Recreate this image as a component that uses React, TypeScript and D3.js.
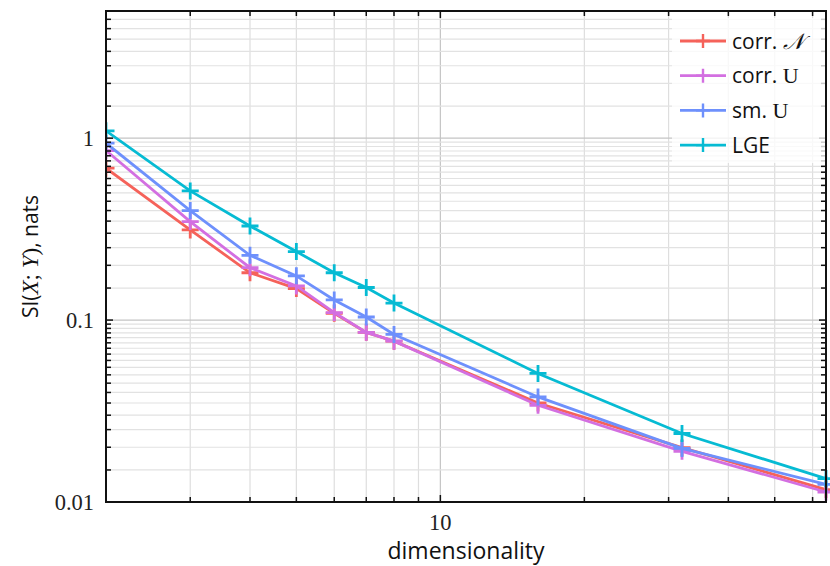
import React from 'react';
import * as d3 from 'd3';

// dimensionality values on the x axis
const dims = [2, 3, 4, 5, 6, 7, 8, 16, 32, 64];

// SI(X;Y) estimates per method (nats)
const corrNormal = [0.684, 0.313, 0.182, 0.149, 0.109, 0.0856, 0.0766, 0.0350, 0.0199, 0.0117];
const corrUniform = [0.855, 0.348, 0.194, 0.154, 0.110, 0.0856, 0.0766, 0.0340, 0.0190, 0.01135];
const smUniform = [0.939, 0.40, 0.227, 0.175, 0.129, 0.104, 0.0834, 0.0378, 0.0197, 0.0125];
const lge = [1.097, 0.513, 0.329, 0.238, 0.182, 0.151, 0.124, 0.0509, 0.0238, 0.01345];

const seriesNames = ['corr. N', 'corr. U', 'sm. U', 'LGE'];
const seriesColors = ['#f5625a', '#d36fe1', '#6e90fc', '#06bbd3'];
const seriesValues = [corrNormal, corrUniform, smUniform, lge];

const xTickLabels = [10];
const yTickLabels = [0.01, 0.1, 1];

const W = 830;
const H = 566;
const left = 106, right = 826, top = 11, bottom = 502;

const sansFont = '"Open Sans", "Noto Sans", sans-serif';
const serifFont = '"Liberation Serif", "DejaVu Serif", serif';

export default function App() {
  const x = d3.scaleLog().domain([2, 64]).range([left, right]);
  const y = d3.scaleLog().domain([0.01, 5]).range([bottom, top]);

  // x grid: 2..9, 10, 20..60
  const xGrid: number[] = [];
  for (let k = 0; k < 2; k++) {
    for (let m = 1; m <= 9; m++) {
      const v = m * Math.pow(10, k);
      if (v > 2 && v < 64) xGrid.push(v);
    }
  }
  // y grid: every half step of the mantissa
  const yGrid: { v: number; major: boolean }[] = [];
  for (let k = -2; k <= 0; k++) {
    for (let m = 1; m < 10; m += 0.5) {
      const v = m * Math.pow(10, k);
      if (v > 0.01 && v <= 5.0001) yGrid.push({ v, major: m === 1 });
    }
  }

  const line = d3.line<[number, number]>().x(d => x(d[0])).y(d => y(d[1]));
  const plus = (cx: number, cy: number, s: number) =>
    `M${cx - s},${cy}H${cx + s}M${cx},${cy - s}V${cy + s}`;

  const legendX = 672, legendY = 18;
  const rowY = (i: number) => legendY + 23 + i * 34.7;

  return (
    <svg width={W} height={H} style={{ position: 'absolute', left: 0, top: 0, background: '#fff' }}>
      <defs>
        <clipPath id="plotClip">
          <rect x={left} y={top - 8} width={right - left + 8} height={bottom - top + 16} />
        </clipPath>
      </defs>

      {/* grid */}
      {xGrid.map(v => (
        <line key={'xg' + v} x1={x(v)} x2={x(v)} y1={top} y2={bottom}
          stroke={v === 10 ? '#c4c4c4' : '#dedede'} strokeWidth={1.2} />
      ))}
      {yGrid.map(g => (
        <line key={'yg' + g.v} x1={left} x2={right} y1={y(g.v)} y2={y(g.v)}
          stroke={g.major ? '#c4c4c4' : '#e2e2e2'} strokeWidth={1.2} />
      ))}

      {/* series */}
      <g clipPath="url(#plotClip)">
        {seriesValues.map((vals, i) => {
          const pts = dims.map((d, j) => [d, vals[j]] as [number, number]);
          return (
            <g key={seriesNames[i]}>
              <path d={line(pts) || ''} fill="none" stroke={seriesColors[i]} strokeWidth={2.8} />
              {pts.map((p, j) => (
                <path key={j} d={plus(x(p[0]), y(p[1]), 8.5)} stroke={seriesColors[i]} strokeWidth={2.8} />
              ))}
            </g>
          );
        })}
      </g>

      {/* frame ticks */}
      {xGrid.map(v => (
        <g key={'xt' + v}>
          <line x1={x(v)} x2={x(v)} y1={bottom} y2={bottom - (v === 10 ? 7 : 5)} stroke="#111" strokeWidth={1.5} />
          <line x1={x(v)} x2={x(v)} y1={top} y2={top + (v === 10 ? 7 : 5)} stroke="#111" strokeWidth={1.5} />
        </g>
      ))}
      {yGrid.map(g => (
        <g key={'yt' + g.v}>
          <line x1={left} x2={left + (g.major ? 7 : 5)} y1={y(g.v)} y2={y(g.v)} stroke="#111" strokeWidth={1.5} />
          <line x1={right} x2={right - (g.major ? 7 : 5)} y1={y(g.v)} y2={y(g.v)} stroke="#111" strokeWidth={1.5} />
        </g>
      ))}
      <rect x={left} y={top} width={right - left} height={bottom - top} fill="none" stroke="#111" strokeWidth={2} />

      {/* tick labels */}
      {yTickLabels.map(v => (
        <text key={'yl' + v} x={94} y={y(v) + 7.5} textAnchor="end" fontFamily={serifFont} fontSize={22.5} fill="#222">
          {String(v)}
        </text>
      ))}
      {xTickLabels.map(v => (
        <text key={'xl' + v} x={x(v)} y={530} textAnchor="middle" fontFamily={serifFont} fontSize={22.5} fill="#222">
          {String(v)}
        </text>
      ))}

      {/* axis titles */}
      <text x={(left + right) / 2} y={559} textAnchor="middle" fontFamily={sansFont} fontSize={23} fill="#111">
        dimensionality
      </text>
      <text transform={`translate(38,${(top + bottom) / 2}) rotate(-90)`} textAnchor="middle"
        fontFamily={sansFont} fontSize={21} fill="#111">
        SI(<tspan fontFamily={serifFont} fontStyle="italic" fontSize={23}>X</tspan>
        <tspan fontFamily={serifFont} fontSize={23}>; </tspan>
        <tspan fontFamily={serifFont} fontStyle="italic" fontSize={23}>Y</tspan>
        <tspan fontFamily={serifFont} fontSize={23}>)</tspan>, nats
      </text>

      {/* legend */}
      <rect x={legendX} y={legendY} width={right - legendX - 1} height={145} fill="#fff" fillOpacity={0.78} />
      {seriesNames.map((name, i) => {
        const cy = rowY(i);
        const label =
          i === 0 ? (<>corr. <tspan fontFamily={serifFont} fontStyle="italic" fontSize={22}>𝒩</tspan></>)
          : i === 1 ? (<>corr. <tspan fontFamily={serifFont} fontSize={22}>U</tspan></>)
          : i === 2 ? (<>sm. <tspan fontFamily={serifFont} fontSize={22}>U</tspan></>)
          : name;
        return (
          <g key={'lg' + name}>
            <line x1={680} x2={726} y1={cy} y2={cy} stroke={seriesColors[i]} strokeWidth={2.8} />
            <path d={plus(703, cy, 7)} stroke={seriesColors[i]} strokeWidth={2.4} />
            <text x={732} y={cy + 7.5} fontFamily={sansFont} fontSize={21} fill="#111">{label}</text>
          </g>
        );
      })}
    </svg>
  );
}
